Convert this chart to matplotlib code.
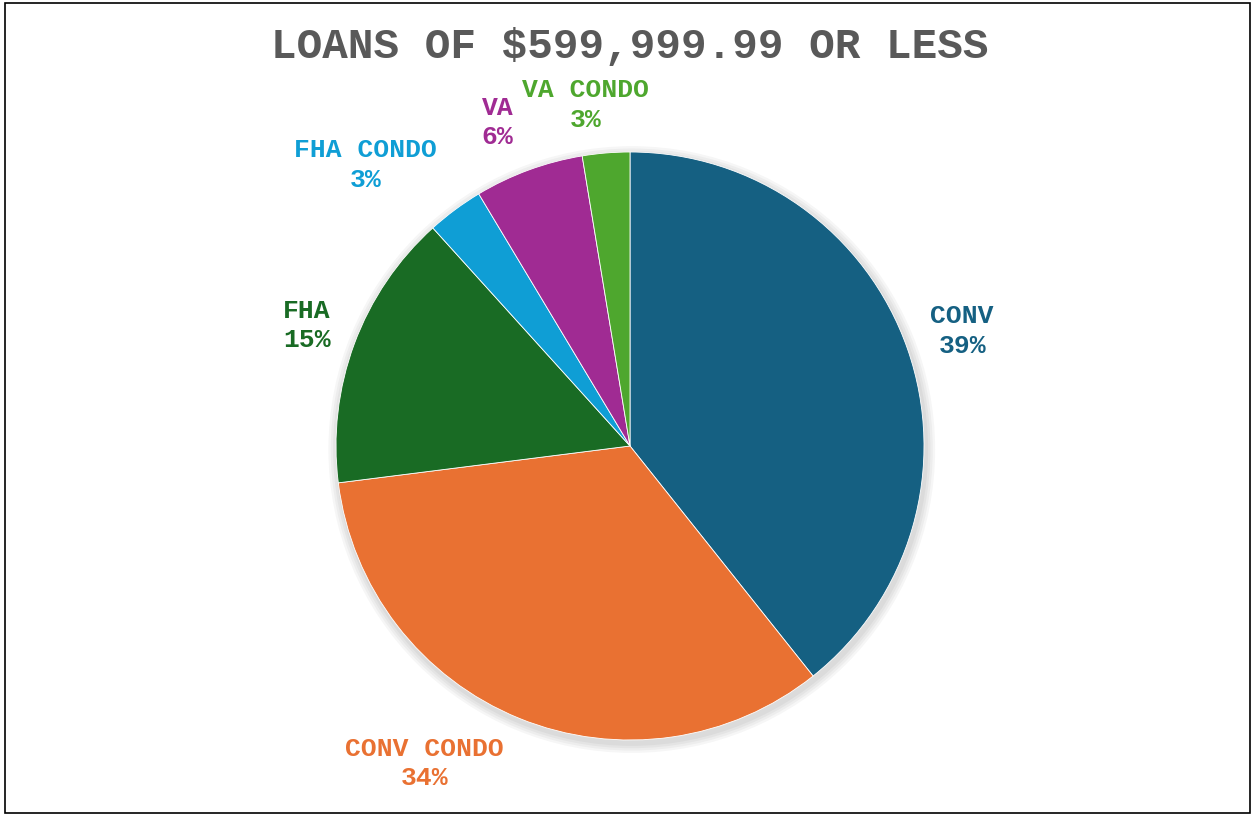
import numpy as np
import matplotlib.pyplot as plt
from matplotlib.patches import Rectangle, Circle

# loan type shares (percent)
categories = ['CONV', 'CONV CONDO', 'FHA', 'FHA CONDO', 'VA', 'VA CONDO']
shares = [39.3, 33.7, 15.3, 3.1, 6.0, 2.6]
colors = ['#156082', '#E97132', '#196B24', '#0F9ED5', '#A02B93', '#4EA72E']

# label spots, in pie radii from the centre
label_pos = [(1.13, 0.39), (-0.70, -1.08), (-1.10, 0.41),
             (-0.90, 0.955), (-0.45, 1.10), (-0.15, 1.16)]

plt.rcParams['font.family'] = ['Liberation Mono', 'DejaVu Sans']

fig = plt.figure(figsize=(12.54, 8.16), dpi=100)
ax = fig.add_axes([0, 0, 1, 1])
r_px = 294.0
cx, cy = 630.0, 816 - 446.0

# soft shadow
for i in range(4):
    ax.add_patch(Circle((0.006, -0.012), 1.0 + 0.008 * (i + 1), color='black',
                        alpha=0.035, lw=0, zorder=0))

wedges, _ = ax.pie(shares, colors=colors, startangle=90, counterclock=False,
                   radius=1.0, center=(0, 0), frame=True,
                   wedgeprops=dict(edgecolor='white', linewidth=0.6))
ax.set_xlim(-cx / r_px, (1254 - cx) / r_px)
ax.set_ylim(-cy / r_px, (816 - cy) / r_px)
ax.set_aspect('auto')
ax.axis('off')

for name, val, col, (lx, ly) in zip(categories, shares, colors, label_pos):
    ax.text(lx, ly, '%s\n%d%%' % (name, round(val)), ha='center', va='center',
            color=col, fontsize=19, fontweight='bold', linespacing=1.3)

fig.text(630 / 1254, 1 - 47 / 816, 'LOANS OF $599,999.99 OR LESS', ha='center',
         va='center', fontsize=30.7, fontweight='bold', color='#595959')

fig.patches.append(Rectangle((5 / 1254, 3 / 816), 1245 / 1254, 810 / 816,
                             transform=fig.transFigure, fill=False,
                             edgecolor='black', linewidth=1.2))

fig.savefig('out.png', dpi=100, facecolor='white')
